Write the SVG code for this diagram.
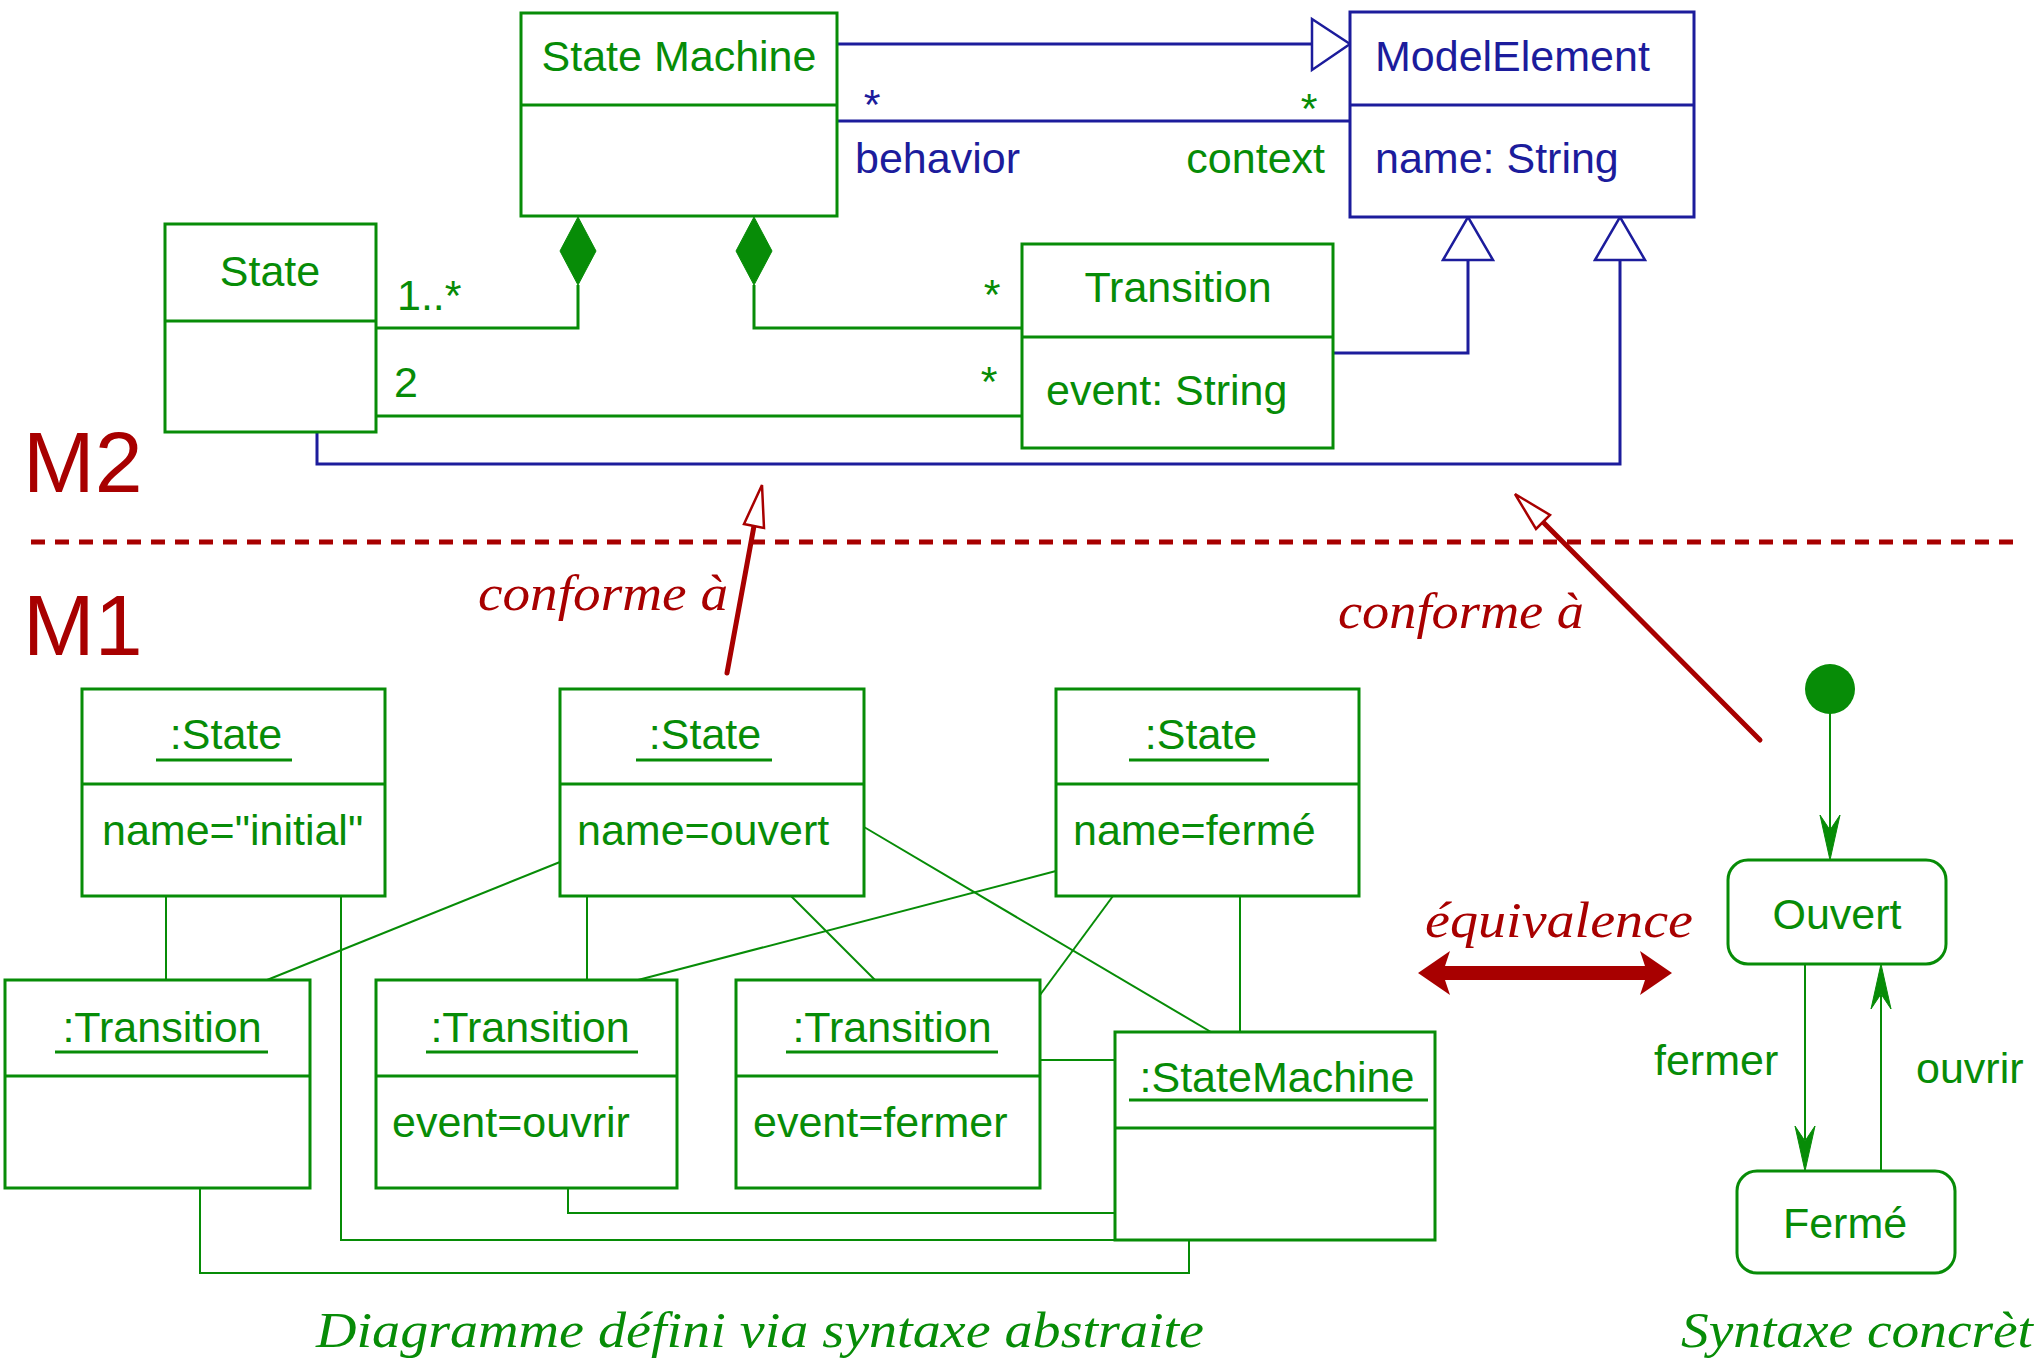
<svg xmlns="http://www.w3.org/2000/svg" width="2041" height="1362" viewBox="0 0 2041 1362">
<style>
.g{fill:none;stroke:#078c07;stroke-width:3}
.gt{fill:none;stroke:#078c07;stroke-width:2}
.b{fill:none;stroke:#1c1c9c;stroke-width:3}
.box{fill:#fff;stroke:#078c07;stroke-width:3}
.bbox{fill:#fff;stroke:#1c1c9c;stroke-width:3}
.tg{font-family:"Liberation Sans",Arial,sans-serif;font-size:43px;fill:#078c07}
.tb{font-family:"Liberation Sans",Arial,sans-serif;font-size:43px;fill:#1c1c9c}
.tr{font-family:"Liberation Sans",Arial,sans-serif;font-size:86px;fill:#a80000}
.it{font-family:"Liberation Serif","Times New Roman",serif;font-style:italic;font-size:50px}
.ul{stroke:#078c07;stroke-width:3}
.m{text-anchor:middle}
.e{text-anchor:end}
.red{fill:none;stroke:#a80000;stroke-width:5;stroke-linecap:round}
.head{fill:#fff;stroke:#a80000;stroke-width:2.5}
.gen{fill:#fff;stroke:#1c1c9c;stroke-width:2.5}
.dia{fill:#078c07;stroke:#078c07;stroke-width:1}
.ah{fill:#078c07;stroke:#078c07;stroke-width:1}
</style>
<rect width="2041" height="1362" fill="#fff"/>

<!-- level labels and separator -->
<text class="tr" x="23" y="492">M2</text>
<text class="tr" x="23" y="655">M1</text>
<line x1="31" y1="542" x2="2016" y2="542" stroke="#a80000" stroke-width="5" stroke-dasharray="14 10"/>

<g id="connectors">
  <!-- M2 -->
  <line class="b" x1="837" y1="44" x2="1312" y2="44"/>
  <polygon class="gen" points="1312,19 1350,44 1312,70"/>
  <line class="b" x1="837" y1="121" x2="1350" y2="121"/>
  <polyline class="g" points="578,285 578,328 376,328"/>
  <polygon class="dia" points="578,217 560,251 578,285 596,251"/>
  <polyline class="g" points="754,285 754,328 1022,328"/>
  <polygon class="dia" points="754,217 736,251 754,285 772,251"/>
  <line class="g" x1="376" y1="416" x2="1022" y2="416"/>
  <polyline class="b" points="1333,353 1468,353 1468,260"/>
  <polygon class="gen" points="1443,260 1468,217 1493,260"/>
  <polyline class="b" points="317,432 317,464 1620,464 1620,260"/>
  <polygon class="gen" points="1595,260 1620,217 1645,260"/>
  <!-- conforme arrows -->
  <line class="red" x1="727" y1="673" x2="754" y2="526"/>
  <polygon class="head" points="762,485 744,524 764,528"/>
  <line class="red" x1="1760" y1="740" x2="1543" y2="522"/>
  <polygon class="head" points="1515,494 1550,515 1536,529"/>
  <!-- M1 links -->
  <line class="gt" x1="166" y1="896" x2="166" y2="980"/>
  <polyline class="gt" points="341,896 341,1240 1115,1240"/>
  <polyline class="gt" points="200,1188 200,1273 1189,1273 1189,1240"/>
  <polyline class="gt" points="568,1188 568,1213 1115,1213"/>
  <line class="gt" x1="1040" y1="1060" x2="1115" y2="1060"/>
  <line class="gt" x1="587" y1="896" x2="587" y2="980"/>
  <line class="gt" x1="791" y1="896" x2="875" y2="980"/>
  <line class="gt" x1="560" y1="862" x2="267" y2="980"/>
  <line class="gt" x1="1056" y1="871" x2="638" y2="980"/>
  <line class="gt" x1="864" y1="827" x2="1211" y2="1032"/>
  <line class="gt" x1="1113" y1="896" x2="1040" y2="995"/>
  <line class="gt" x1="1240" y1="896" x2="1240" y2="1032"/>
  <!-- equivalence -->
  <polygon fill="#a80000" points="1418,973 1450,951 1445,966 1645,966 1640,951 1672,973 1640,995 1645,980 1445,980 1450,995"/>
  <!-- state diagram transitions -->
  <line class="gt" x1="1830" y1="713" x2="1830" y2="830"/>
  <polygon class="ah" points="1830,860 1820,815 1830,830 1840,815"/>
  <line class="gt" x1="1805" y1="964" x2="1805" y2="1140"/>
  <polygon class="ah" points="1805,1171 1795,1126 1805,1141 1815,1126"/>
  <line class="gt" x1="1881" y1="1171" x2="1881" y2="995"/>
  <polygon class="ah" points="1881,964 1871,1009 1881,994 1891,1009"/>
</g>

<!-- M2 labels on connectors -->
<text class="tb" x="872" y="119" text-anchor="middle">*</text>
<text class="tb" x="855" y="173">behavior</text>
<text class="tg" x="1309" y="123" text-anchor="middle">*</text>
<text class="tg e" x="1325" y="173">context</text>
<text class="tg" x="397" y="310">1..*</text>
<text class="tg" x="992" y="309" text-anchor="middle">*</text>
<text class="tg" x="394" y="397">2</text>
<text class="tg" x="989" y="396" text-anchor="middle">*</text>

<text class="it" x="478" y="610" fill="#a80000" textLength="250" lengthAdjust="spacingAndGlyphs">conforme à</text>
<text class="it" x="1338" y="628" fill="#a80000" textLength="246" lengthAdjust="spacingAndGlyphs">conforme à</text>
<text class="it" x="1425" y="937" fill="#a80000" textLength="268" lengthAdjust="spacingAndGlyphs">équivalence</text>
<text class="tg" x="1654" y="1075">fermer</text>
<text class="tg" x="1916" y="1083">ouvrir</text>

<g id="StateMachine">
  <rect class="box" x="521" y="13" width="316" height="203"/>
  <line class="g" x1="521" y1="105" x2="837" y2="105"/>
  <text class="tg m" x="679" y="71">State Machine</text>
</g>
<g id="ModelElement">
  <rect class="bbox" x="1350" y="12" width="344" height="205"/>
  <line class="b" x1="1350" y1="105" x2="1694" y2="105"/>
  <text class="tb" x="1375" y="71">ModelElement</text>
  <text class="tb" x="1375" y="173">name: String</text>
</g>
<g id="State">
  <rect class="box" x="165" y="224" width="211" height="208"/>
  <line class="g" x1="165" y1="321" x2="376" y2="321"/>
  <text class="tg m" x="270" y="286">State</text>
</g>
<g id="Transition">
  <rect class="box" x="1022" y="244" width="311" height="204"/>
  <line class="g" x1="1022" y1="337" x2="1333" y2="337"/>
  <text class="tg m" x="1178" y="302">Transition</text>
  <text class="tg" x="1046" y="405">event: String</text>
</g>

<g id="state-initial">
  <rect class="box" x="82" y="689" width="303" height="207"/>
  <line class="g" x1="82" y1="784" x2="385" y2="784"/>
  <text class="tg m" x="226" y="749">:State</text>
  <line class="ul" x1="156" y1="760" x2="292" y2="760"/>
  <text class="tg" x="102" y="845">name="initial"</text>
</g>
<g id="state-ouvert">
  <rect class="box" x="560" y="689" width="304" height="207"/>
  <line class="g" x1="560" y1="784" x2="864" y2="784"/>
  <text class="tg m" x="705" y="749">:State</text>
  <line class="ul" x1="636" y1="760" x2="772" y2="760"/>
  <text class="tg" x="577" y="845">name=ouvert</text>
</g>
<g id="state-ferme">
  <rect class="box" x="1056" y="689" width="303" height="207"/>
  <line class="g" x1="1056" y1="784" x2="1359" y2="784"/>
  <text class="tg m" x="1201" y="749">:State</text>
  <line class="ul" x1="1129" y1="760" x2="1269" y2="760"/>
  <text class="tg" x="1073" y="845">name=fermé</text>
</g>
<g id="transition-1">
  <rect class="box" x="5" y="980" width="305" height="208"/>
  <line class="g" x1="5" y1="1076" x2="310" y2="1076"/>
  <text class="tg m" x="162" y="1042">:Transition</text>
  <line class="ul" x1="55" y1="1052" x2="268" y2="1052"/>
</g>
<g id="transition-ouvrir">
  <rect class="box" x="376" y="980" width="301" height="208"/>
  <line class="g" x1="376" y1="1076" x2="677" y2="1076"/>
  <text class="tg m" x="530" y="1042">:Transition</text>
  <line class="ul" x1="426" y1="1052" x2="638" y2="1052"/>
  <text class="tg" x="392" y="1137">event=ouvrir</text>
</g>
<g id="transition-fermer">
  <rect class="box" x="736" y="980" width="304" height="208"/>
  <line class="g" x1="736" y1="1076" x2="1040" y2="1076"/>
  <text class="tg m" x="892" y="1042">:Transition</text>
  <line class="ul" x1="786" y1="1052" x2="998" y2="1052"/>
  <text class="tg" x="753" y="1137">event=fermer</text>
</g>
<g id="statemachine-instance">
  <rect class="box" x="1115" y="1032" width="320" height="208"/>
  <line class="g" x1="1115" y1="1128" x2="1435" y2="1128"/>
  <text class="tg m" x="1277" y="1092">:StateMachine</text>
  <line class="ul" x1="1129" y1="1100" x2="1428" y2="1100"/>
</g>

<g id="initial-pseudostate">
  <circle cx="1830" cy="689" r="25" fill="#078c07"/>
</g>
<g id="Ouvert">
  <rect class="box" x="1728" y="860" width="218" height="104" rx="20"/>
  <text class="tg m" x="1837" y="929">Ouvert</text>
</g>
<g id="Ferme">
  <rect class="box" x="1737" y="1171" width="218" height="102" rx="20"/>
  <text class="tg m" x="1845" y="1238">Fermé</text>
</g>

<text class="it" x="316" y="1347" fill="#078c07" textLength="888" lengthAdjust="spacingAndGlyphs">Diagramme défini via syntaxe abstraite</text>
<text class="it" x="1681" y="1347" fill="#078c07" textLength="352" lengthAdjust="spacingAndGlyphs">Syntaxe concrèt</text>
</svg>
